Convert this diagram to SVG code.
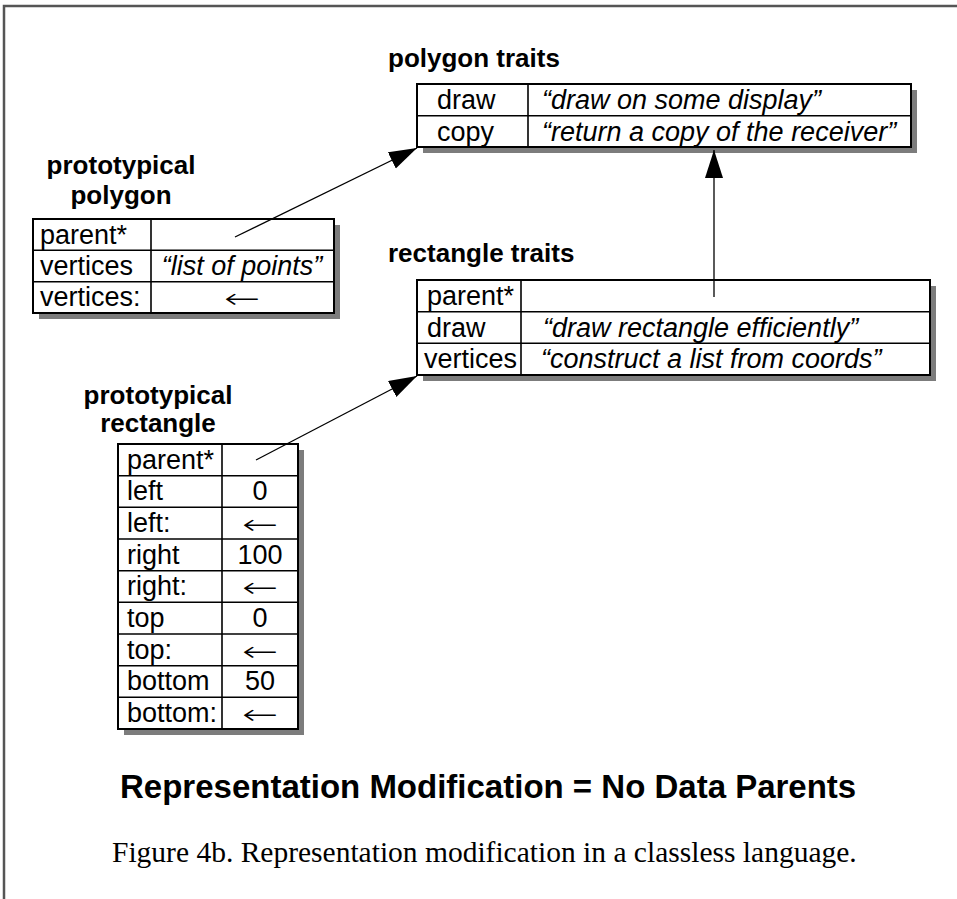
<svg xmlns="http://www.w3.org/2000/svg" width="957" height="899" viewBox="0 0 957 899">
<defs>
<marker id="ah" markerUnits="userSpaceOnUse" markerWidth="30" markerHeight="20" refX="28" refY="9" orient="auto">
<path d="M0,0 L28,9 L0,18 Z" fill="#000"/>
</marker>
<style>
.frame{fill:none;stroke:#555;stroke-width:2.5}
.shadow{fill:#7c7c7c;stroke:none}
.box{fill:#fff;stroke:#000;stroke-width:2}
.div{stroke:#000;stroke-width:1.6;fill:none}
.cell{font-family:"Liberation Sans",Arial,sans-serif;font-size:27px;fill:#000}
.it{font-style:italic}
.mid{text-anchor:middle}
.arr{font-family:"DejaVu Sans",sans-serif;font-size:28px;font-weight:200;fill:#000;text-anchor:middle}
.head{font-family:"Liberation Sans",Arial,sans-serif;font-size:26px;font-weight:bold;fill:#000}
.conn{stroke:#000;stroke-width:1.3;fill:none;marker-end:url(#ah)}
.title{font-family:"Liberation Sans",Arial,sans-serif;font-size:33px;font-weight:bold;fill:#000}
.cap{font-family:"Liberation Serif","Times New Roman",serif;font-size:29.5px;fill:#000}
</style>
</defs>
<rect width="957" height="899" fill="#fff"/>
<path class="frame" d="M4,899 V6 H957"/>

<g id="polygon-traits">
<text class="head" x="388" y="67">polygon traits</text>
<rect class="shadow" x="423" y="90" width="494" height="63"/>
<rect class="box" x="417" y="84" width="494" height="63"/>
<line class="div" x1="417" y1="115.7" x2="911" y2="115.7"/>
<line class="div" x1="528" y1="84" x2="528" y2="147"/>
<text class="cell" x="437" y="109">draw</text>
<text class="cell" x="437" y="141">copy</text>
<text class="cell it" x="542" y="109">“draw on some display”</text>
<text class="cell it" x="542" y="141">“return a copy of the receiver”</text>
</g>

<g id="prototypical-polygon">
<text class="head mid" x="121" y="174">prototypical</text>
<text class="head mid" x="121" y="204">polygon</text>
<rect class="shadow" x="39" y="225" width="301" height="94"/>
<rect class="box" x="33" y="219" width="301" height="94"/>
<line class="div" x1="33" y1="250.3" x2="334" y2="250.3"/>
<line class="div" x1="33" y1="281.7" x2="334" y2="281.7"/>
<line class="div" x1="151" y1="219" x2="151" y2="313"/>
<text class="cell" x="40" y="244">parent*</text>
<text class="cell" x="40" y="275">vertices</text>
<text class="cell" x="40" y="306">vertices:</text>
<text class="cell it mid" x="242" y="275">“list of points”</text>
<text class="arr" transform="translate(242,308) scale(1.55,1)">←</text>
</g>

<g id="rectangle-traits">
<text class="head" x="388" y="262">rectangle traits</text>
<rect class="shadow" x="423" y="286" width="513" height="95"/>
<rect class="box" x="417" y="280" width="513" height="95"/>
<line class="div" x1="417" y1="311.7" x2="930" y2="311.7"/>
<line class="div" x1="417" y1="343.3" x2="930" y2="343.3"/>
<line class="div" x1="521" y1="280" x2="521" y2="375"/>
<text class="cell" x="427" y="305">parent*</text>
<text class="cell" x="427" y="337">draw</text>
<text class="cell" x="424" y="368">vertices</text>
<text class="cell it" x="543" y="337">“draw rectangle efficiently”</text>
<text class="cell it" x="541" y="368">“construct a list from coords”</text>
</g>

<g id="prototypical-rectangle">
<text class="head mid" x="158" y="404">prototypical</text>
<text class="head mid" x="158" y="432">rectangle</text>
<rect class="shadow" x="124" y="450" width="180" height="285"/>
<rect class="box" x="118" y="444" width="180" height="285"/>
<g class="div">
<line x1="118" y1="475.7" x2="298" y2="475.7"/>
<line x1="118" y1="507.3" x2="298" y2="507.3"/>
<line x1="118" y1="539" x2="298" y2="539"/>
<line x1="118" y1="570.7" x2="298" y2="570.7"/>
<line x1="118" y1="602.3" x2="298" y2="602.3"/>
<line x1="118" y1="634" x2="298" y2="634"/>
<line x1="118" y1="665.7" x2="298" y2="665.7"/>
<line x1="118" y1="697.3" x2="298" y2="697.3"/>
<line x1="222" y1="444" x2="222" y2="729"/>
</g>
<text class="cell" x="127" y="469">parent*</text>
<text class="cell" x="127" y="500">left</text>
<text class="cell" x="127" y="532">left:</text>
<text class="cell" x="127" y="564">right</text>
<text class="cell" x="127" y="595">right:</text>
<text class="cell" x="127" y="627">top</text>
<text class="cell" x="127" y="659">top:</text>
<text class="cell" x="127" y="690">bottom</text>
<text class="cell" x="127" y="722">bottom:</text>
<text class="cell mid" x="260" y="500">0</text>
<text class="arr" transform="translate(260,534) scale(1.55,1)">←</text>
<text class="cell mid" x="260" y="564">100</text>
<text class="arr" transform="translate(260,597) scale(1.55,1)">←</text>
<text class="cell mid" x="260" y="627">0</text>
<text class="arr" transform="translate(260,661) scale(1.55,1)">←</text>
<text class="cell mid" x="260" y="690">50</text>
<text class="arr" transform="translate(260,724) scale(1.55,1)">←</text>
</g>

<g id="connectors">
<line class="conn" x1="235" y1="237" x2="417" y2="148"/>
<line class="conn" x1="714" y1="297" x2="714" y2="150"/>
<line class="conn" x1="256" y1="460" x2="417" y2="376"/>
</g>

<text class="title" x="120" y="798">Representation Modification = No Data Parents</text>
<text class="cap" x="112" y="862">Figure 4b. Representation modification in a classless language.</text>
</svg>
